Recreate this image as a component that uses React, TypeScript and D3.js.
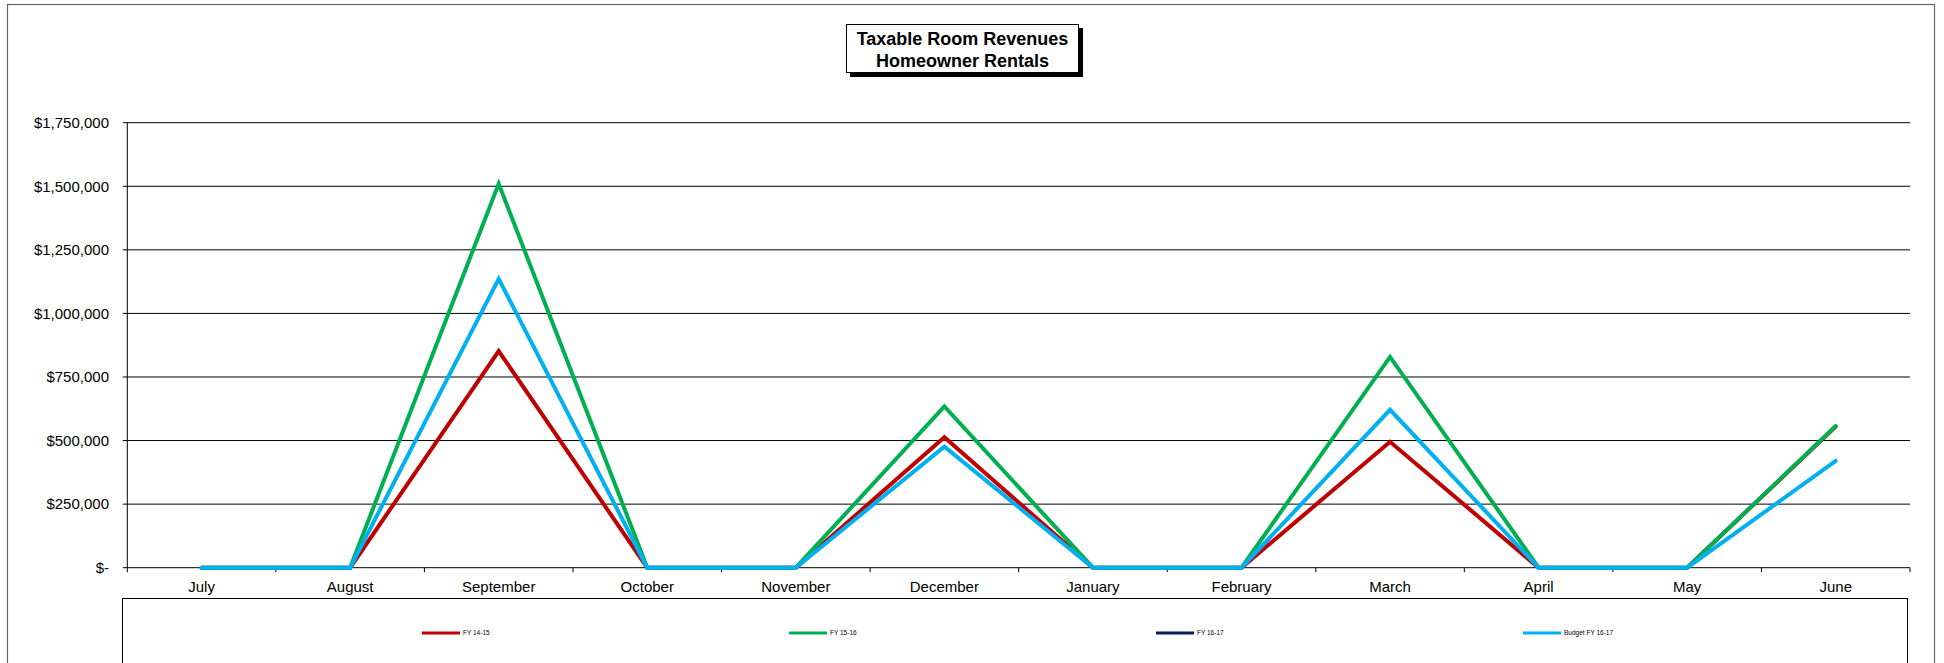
import React from "react";
import * as d3 from "d3";

const months = ["July","August","September","October","November","December","January","February","March","April","May","June"];
const fy1415 = [0,0,852000,0,0,513000,0,0,495000,0,0,555000];
const fy1516 = [0,0,1510000,0,0,634000,0,0,829000,0,0,557000];
const fy1617: (number | null)[] = [null,null,null,null,null,null,null,null,null,null,null,null];
const budget1617 = [0,0,1136000,0,0,476000,0,0,621000,0,0,420000];
const yTicks = [0,250000,500000,750000,1000000,1250000,1500000,1750000];
const seriesNames = ["FY 14-15","FY 15-16","FY 16-17","Budget FY 16-17"];
const seriesColors = ["#C00000","#00B050","#002060","#00B0F0"];
const seriesData: (number | null)[][] = [fy1415, fy1516, fy1617, budget1617];

const W = 1944, H = 663;
const left = 127.3, right = 1910, top = 122.7, bottom = 567.7;

export default function App() {
  const x = d3.scaleBand<string>().domain(months).range([left, right]).paddingInner(0).paddingOuter(0);
  const y = d3.scaleLinear().domain([0, 1750000]).range([bottom, top]);
  const cx = (m: string) => (x(m) as number) + x.bandwidth() / 2;
  const line = d3
    .line<number | null>()
    .defined((d) => d !== null)
    .x((_, i) => cx(months[i]))
    .y((d) => y(d as number));
  const fmt = (v: number) => (v === 0 ? "$-" : "$" + d3.format(",")(v));
  const font = "Liberation Sans, Arial, sans-serif";
  const boundaries = months.map((m) => x(m) as number).concat([right]);
  const legendX = [422, 789, 1156, 1523];

  return (
    <svg width={W} height={H} style={{ position: "absolute", left: 0, top: 0, background: "#fff" }} fontFamily={font}>
      <rect x={0} y={0} width={W} height={H} fill="#fff" />
      {/* outer frame */}
      <rect x={7.5} y={4.5} width={1927} height={700} fill="none" stroke="#666" strokeWidth={1.2} />
      {/* title */}
      <rect x={850} y={28} width={233} height={49} fill="#000" />
      <rect x={846.5} y={24.5} width={232} height={48} fill="#fff" stroke="#000" strokeWidth={1} />
      <text x={962.5} y={45} textAnchor="middle" fontSize={18} fontWeight="bold">Taxable Room Revenues</text>
      <text x={962.5} y={67} textAnchor="middle" fontSize={18} fontWeight="bold">Homeowner Rentals</text>
      {/* gridlines */}
      {yTicks.map((t) => (
        <g key={t}>
          <line x1={left - 4.5} x2={right} y1={y(t)} y2={y(t)} stroke="#000" strokeWidth={1} />
          <text x={109} y={y(t)} dy="0.35em" textAnchor="end" fontSize={15}>{fmt(t)}</text>
        </g>
      ))}
      {/* y axis */}
      <line x1={left} x2={left} y1={top} y2={bottom} stroke="#000" strokeWidth={1} />
      {/* x ticks */}
      {boundaries.map((b, i) => (
        <line key={i} x1={b} x2={b} y1={bottom} y2={bottom + 4.5} stroke="#000" strokeWidth={1} />
      ))}
      {months.map((m) => (
        <text key={m} x={cx(m)} y={592} textAnchor="middle" fontSize={15}>{m}</text>
      ))}
      {/* series */}
      {seriesData.map((d, i) => (
        <path key={i} d={(line(d) as string) || ""} fill="none" stroke={seriesColors[i]} strokeWidth={4} strokeLinejoin="miter" strokeLinecap="round" />
      ))}
      {/* legend */}
      <rect x={122.5} y={598.5} width={1785} height={120} fill="#fff" stroke="#000" strokeWidth={1} />
      {seriesNames.map((n, i) => (
        <g key={n}>
          <line x1={legendX[i]} x2={legendX[i] + 38} y1={633} y2={633} stroke={seriesColors[i]} strokeWidth={3} />
          <text x={legendX[i] + 41} y={633} dy="0.35em" fontSize={6.5}>{n}</text>
        </g>
      ))}
    </svg>
  );
}
